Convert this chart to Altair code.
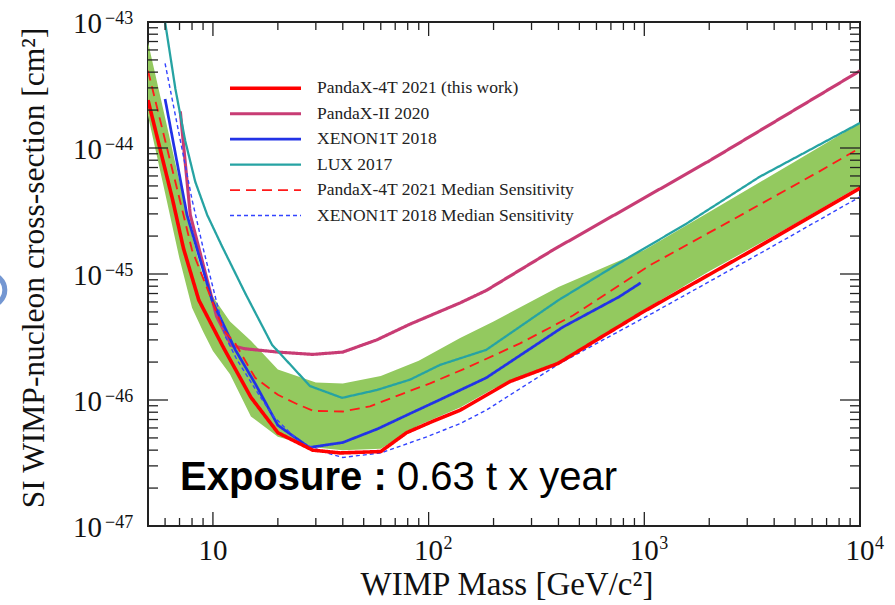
import altair as alt
import pandas as pd

# ---------------- data ----------------
SERIES = [
    "PandaX-4T 2021 (this work)",
    "PandaX-II 2020",
    "XENON1T 2018",
    "LUX 2017",
    "PandaX-4T 2021 Median Sensitivity",
    "XENON1T 2018 Median Sensitivity",
]

p4t_mass = [5, 6.5, 7.3, 8.6, 11.2, 15, 20, 29, 39, 60, 79, 105, 140, 238, 398, 621, 986, 3186, 10000]
p4t_xs = [2.4e-44, 3.9e-45, 1.6e-45, 6.2e-46, 2.6e-46, 1.05e-46, 5.5e-47, 4.0e-47, 3.8e-47, 3.9e-47,
          5.5e-47, 6.8e-47, 8.3e-47, 1.4e-46, 1.95e-46, 3.1e-46, 5.0e-46, 1.55e-45, 4.8e-45]

pii_mass = [7.06, 7.85, 10.4, 12.2, 14.1, 20, 29, 40, 57.5, 82, 140, 185, 377, 2000, 10000]
pii_xs = [1.95e-44, 2.95e-45, 4.6e-46, 2.7e-46, 2.55e-46, 2.4e-46, 2.3e-46, 2.4e-46, 3.0e-46,
          4.0e-46, 5.9e-46, 7.4e-46, 1.55e-45, 7.9e-45, 4.1e-44]

x1t_mass = [6.0, 7.58, 9.9, 12.7, 15.7, 20, 28, 40, 58, 82, 112, 185, 420, 765, 962]
x1t_xs = [2.45e-44, 2.95e-45, 6.2e-46, 2.5e-46, 1.35e-46, 6.3e-47, 4.2e-47, 4.6e-47, 5.9e-47,
          7.8e-47, 1.0e-46, 1.5e-46, 3.8e-46, 6.6e-46, 8.5e-46]

lux_mass = [6.0, 6.7, 7.44, 8.28, 9.41, 11.0, 14.1, 18.8, 28.2, 39.7, 57.5, 82, 113, 185, 400, 765,
            1563, 3420, 10000]
lux_xs = [1.0e-43, 2.94e-44, 1.14e-44, 5.4e-45, 2.94e-45, 1.67e-45, 7.06e-46, 2.74e-46, 1.29e-46,
          1.04e-46, 1.2e-46, 1.45e-46, 1.9e-46, 2.5e-46, 6.2e-46, 1.22e-45, 2.5e-45, 5.9e-45,
          1.58e-44]

p4tm_mass = [5, 7.3, 8.0, 11.2, 12.7, 15.7, 20, 24.5, 29.2, 40, 53.5, 73.5, 101, 150, 264, 469,
             1059, 2570, 6460, 10000]
p4tm_xs = [4.1e-44, 2.95e-45, 1.55e-45, 3.6e-46, 2.8e-46, 1.5e-46, 1.1e-46, 9.3e-47, 8.2e-47,
           8.1e-47, 8.9e-47, 1.1e-46, 1.35e-46, 1.8e-46, 2.8e-46, 4.7e-46, 1.17e-45, 2.7e-45,
           6.5e-45, 1.0e-44]

x1tm_mass = [6.0, 8.0, 9.05, 11.4, 12.9, 16.5, 19.1, 25.3, 33.7, 40, 60, 98, 140, 185, 405, 1095,
             3670, 10000]
x1tm_xs = [4.7e-44, 3.9e-45, 1.55e-45, 3.2e-46, 2.1e-46, 1.07e-46, 7.4e-47, 4.6e-47, 3.8e-47,
           3.5e-47, 3.8e-47, 5.1e-47, 6.5e-47, 8.3e-47, 1.95e-46, 4.9e-46, 1.55e-45, 4.1e-45]

band_mass = [5, 6, 7, 8, 9, 10, 12, 15, 20, 30, 40, 60, 90, 140, 200, 400, 1000, 2000, 5000, 10000]
band_upper = [6.9e-44, 1.75e-44, 5.4e-45, 2.0e-45, 9.5e-46, 6.6e-46, 4.2e-46, 2.95e-46, 1.75e-46,
              1.38e-46, 1.35e-46, 1.55e-46, 2.05e-46, 3.1e-46, 4.2e-46, 7.9e-46, 1.55e-45,
              3.1e-45, 7.8e-45, 1.58e-44]
band_lower = [1.8e-44, 4.4e-45, 1.32e-45, 5.4e-46, 3.5e-46, 2.45e-46, 1.6e-46, 7.4e-47, 5.1e-47,
              4.2e-47, 4.0e-47, 4.1e-47, 6.3e-47, 8.7e-47, 1.23e-46, 2.0e-46, 5.2e-46, 1.05e-45,
              2.5e-45, 5.0e-45]

x_major = [10, 100, 1000, 10000]
x_major_exp = ["", "2", "3", "4"]
x_minor = [5, 6, 7, 8, 9, 20, 30, 40, 50, 60, 70, 80, 90, 200, 300, 400, 500, 600, 700, 800, 900,
           2000, 3000, 4000, 5000, 6000, 7000, 8000, 9000]
y_major = [1e-47, 1e-46, 1e-45, 1e-44, 1e-43]
y_major_exp = ["\u221247", "\u221246", "\u221245", "\u221244", "\u221243"]
y_minor = [k * 10.0 ** e for e in (-47, -46, -45, -44) for k in (2, 3, 4, 5, 6, 7, 8, 9)]

X_TITLE = "WIMP Mass [GeV/c\u00b2]"
Y_TITLE = "SI WIMP-nucleon cross-section [cm\u00b2]"
EXPO_BOLD = "Exposure :"
EXPO_TEXT = "0.63 t x year"

# ---------------- styles ----------------
COLORS = ["#ff0000", "#c83c74", "#2233e6", "#26a3a3", "#ff1a1a", "#3344ff"]
DASHES = [[1, 0], [1, 0], [1, 0], [1, 0], [10, 6], [4, 3]]
WIDTHS = [3.6, 1.4, 1.1, 1.1, 2.4, 1.4]
BAND_COLOR = "#93c95f"
SERIF = "Liberation Serif"
SANS = "Liberation Sans"
W, H = 712, 504

xscale = alt.Scale(type="log", domain=[5, 10000], nice=False)
yscale = alt.Scale(type="log", domain=[1e-47, 1e-43], nice=False)
cscale = alt.Scale(domain=SERIES, range=COLORS)
dscale = alt.Scale(domain=SERIES, range=DASHES)
wscale = alt.Scale(domain=SERIES, range=WIDTHS)

rows = []
for name, ms, xs in [
    (SERIES[0], p4t_mass, p4t_xs),
    (SERIES[1], pii_mass, pii_xs),
    (SERIES[2], x1t_mass, x1t_xs),
    (SERIES[3], lux_mass, lux_xs),
    (SERIES[4], p4tm_mass, p4tm_xs),
    (SERIES[5], x1tm_mass, x1tm_xs),
]:
    for i, (m, s) in enumerate(zip(ms, xs)):
        rows.append({"series": name, "mass": m, "xs": s, "ord": i})
lines_df = pd.DataFrame(rows)

band_df = pd.DataFrame({"mass": band_mass, "hi": band_upper, "lo": band_lower})

band = alt.Chart(band_df).mark_area(color=BAND_COLOR, clip=True, opacity=1).encode(
    x=alt.X("mass:Q", scale=xscale, axis=None),
    y=alt.Y("hi:Q", scale=yscale, axis=None),
    y2="lo:Q",
)

base_line = alt.Chart(lines_df).mark_line(clip=True).encode(
    x=alt.X("mass:Q", scale=xscale, axis=None),
    y=alt.Y("xs:Q", scale=yscale, axis=None),
    order="ord:Q",
    color=alt.Color("series:N", scale=cscale, legend=None),
    strokeDash=alt.StrokeDash("series:N", scale=dscale, legend=None),
    strokeWidth=alt.StrokeWidth("series:N", scale=wscale, legend=None),
)
draw_order = [SERIES[1], SERIES[3], SERIES[2], SERIES[5], SERIES[4], SERIES[0]]
line_layers = [base_line.transform_filter(alt.datum.series == s) for s in draw_order]

# ---------------- ticks (inward, on all four sides) ----------------
TICK_COLOR = "#222222"
xmaj_df = pd.DataFrame({"t": x_major, "e": x_major_exp})
xmin_df = pd.DataFrame({"t": x_minor})
ymaj_df = pd.DataFrame({"t": y_major, "e": y_major_exp})
ymin_df = pd.DataFrame({"t": y_minor})


def xticks(df, length):
    enc_x = alt.X("t:Q", scale=xscale, axis=None)
    bottom = alt.Chart(df).mark_rule(color=TICK_COLOR, strokeWidth=1.3).encode(
        x=enc_x, y=alt.value(H), y2=alt.value(H - length))
    top = alt.Chart(df).mark_rule(color=TICK_COLOR, strokeWidth=1.3).encode(
        x=enc_x, y=alt.value(0), y2=alt.value(length))
    return [bottom, top]


def yticks(df, length):
    enc_y = alt.Y("t:Q", scale=yscale, axis=None)
    left = alt.Chart(df).mark_rule(color=TICK_COLOR, strokeWidth=1.3).encode(
        y=enc_y, x=alt.value(0), x2=alt.value(length))
    right = alt.Chart(df).mark_rule(color=TICK_COLOR, strokeWidth=1.3).encode(
        y=enc_y, x=alt.value(W), x2=alt.value(W - length))
    return [left, right]


tick_layers = xticks(xmaj_df, 14) + xticks(xmin_df, 8) + yticks(ymaj_df, 20) + yticks(ymin_df, 10)

# ---------------- tick labels ----------------
ylab_base = alt.Chart(ymaj_df).mark_text(
    text="10", align="right", baseline="alphabetic", dy=11, font=SERIF, fontSize=29, color="#111"
).encode(y=alt.Y("t:Q", scale=yscale, axis=None), x=alt.value(-46))
ylab_exp = alt.Chart(ymaj_df).mark_text(
    align="left", baseline="alphabetic", dy=2, font=SERIF, fontSize=18, color="#111"
).encode(y=alt.Y("t:Q", scale=yscale, axis=None), x=alt.value(-43), text="e:N")

xlab_ten = alt.Chart(xmaj_df).transform_filter(alt.datum.e == "").mark_text(
    text="10", align="center", baseline="alphabetic", font=SERIF, fontSize=29, color="#111"
).encode(x=alt.X("t:Q", scale=xscale, axis=None), y=alt.value(H + 34))
xlab_base = alt.Chart(xmaj_df).transform_filter(alt.datum.e != "").mark_text(
    text="10", align="center", baseline="alphabetic", dx=0, font=SERIF, fontSize=29, color="#111"
).encode(x=alt.X("t:Q", scale=xscale, axis=None), y=alt.value(H + 34))
xlab_exp = alt.Chart(xmaj_df).transform_filter(alt.datum.e != "").mark_text(
    align="left", baseline="alphabetic", dx=15, font=SERIF, fontSize=18, color="#111"
).encode(x=alt.X("t:Q", scale=xscale, axis=None), y=alt.value(H + 23), text="e:N")

# ---------------- axis titles ----------------
title_df = pd.DataFrame({"xt": [X_TITLE], "yt": [Y_TITLE]})
xtitle = alt.Chart(title_df).mark_text(
    align="center", baseline="alphabetic", font=SERIF, fontSize=33, color="#111"
).encode(text="xt:N", x=alt.value(359), y=alt.value(H + 69))
ytitle = alt.Chart(title_df).mark_text(
    align="center", baseline="alphabetic", angle=270, font=SERIF, fontSize=31.5, color="#111"
).encode(text="yt:N", x=alt.value(-104), y=alt.value(246))

# ---------------- legend ----------------
leg_df = pd.DataFrame({"series": SERIES, "idx": list(range(len(SERIES)))})
leg_base = alt.Chart(leg_df).transform_calculate(ly="66.3 + datum.idx * 25.45")
leg_lines = leg_base.mark_rule().encode(
    x=alt.value(82), x2=alt.value(153),
    y=alt.Y("ly:Q", scale=None),
    color=alt.Color("series:N", scale=cscale, legend=None),
    strokeDash=alt.StrokeDash("series:N", scale=dscale, legend=None),
    strokeWidth=alt.StrokeWidth("series:N", scale=wscale, legend=None),
)
leg_text = leg_base.mark_text(
    align="left", baseline="middle", font=SERIF, fontSize=17.5, color="#222"
).encode(x=alt.value(169), y=alt.Y("ly:Q", scale=None), text="series:N")

# ---------------- exposure annotation ----------------
expo_df = pd.DataFrame({"b": [EXPO_BOLD], "n": [EXPO_TEXT]})
expo_bold = alt.Chart(expo_df).mark_text(
    align="left", baseline="alphabetic", font=SANS, fontSize=40, fontWeight="bold", color="#000"
).encode(text="b:N", x=alt.value(32), y=alt.value(468))
expo_norm = alt.Chart(expo_df).mark_text(
    align="left", baseline="alphabetic", font=SANS, fontSize=40, color="#000"
).encode(text="n:N", x=alt.value(249), y=alt.value(468))

# partial slide decoration at the far left edge
deco = alt.Chart(pd.DataFrame({"d": [0]})).mark_point(
    shape="circle", filled=False, size=1000, strokeWidth=5, color="#3a6cc0"
).encode(x=alt.value(-159), y=alt.value(268))

chart = alt.layer(
    band, *line_layers, *tick_layers,
    ylab_base, ylab_exp, xlab_ten, xlab_base, xlab_exp,
    xtitle, ytitle, leg_lines, leg_text, expo_bold, expo_norm, deco,
).properties(
    width=W, height=H,
    padding={"left": 148, "top": 22, "right": 35, "bottom": 79},
    autosize=alt.AutoSizeParams(type="none"),
    background="white",
).configure_view(stroke="#222222", strokeWidth=2)

chart.save("out.html", embed_options={"renderer": "svg", "actions": False})
